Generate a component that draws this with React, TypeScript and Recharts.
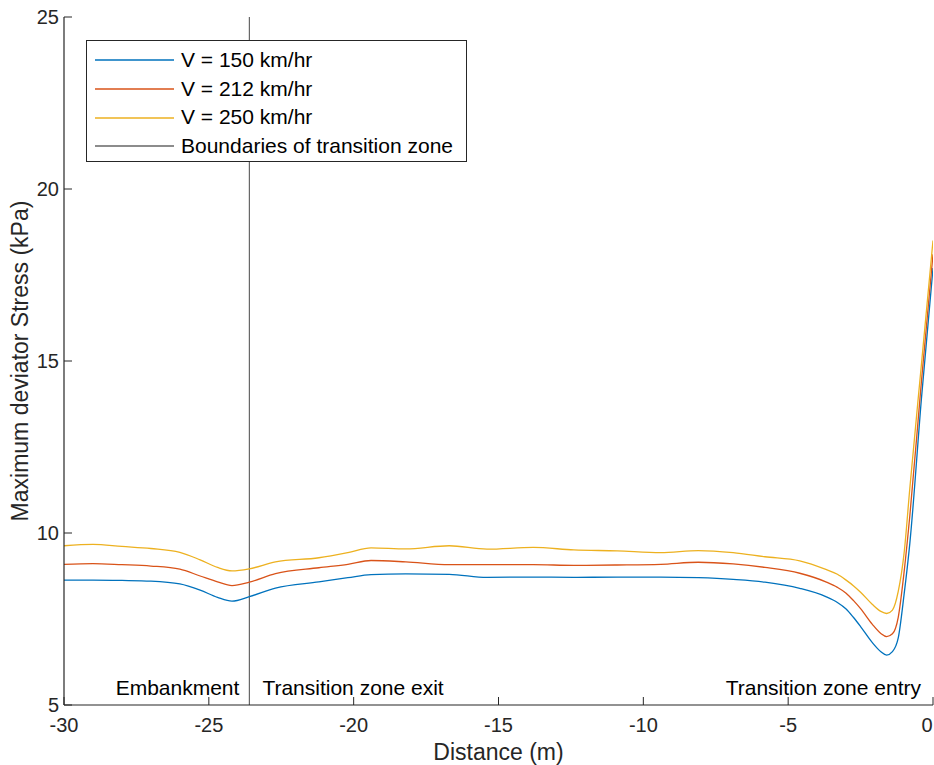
import React from 'react';
import { LineChart, Line, XAxis, YAxis, ReferenceLine, Legend } from 'recharts';

const distance = [-30, -29, -28, -27, -26, -25.3, -24.7, -24.2, -23.6, -22.7, -21.2, -20.2, -19.4, -18.2, -16.7, -15.4, -13.8, -12.4, -10.9, -9.4, -8.1, -6.9, -5.8, -4.6, -3.7, -3.3, -3.0, -2.75, -2.5, -2.1, -1.8, -1.6, -1.4, -1.2, -1.0, -0.8, -0.4, 0];
const v150 = [8.63, 8.63, 8.62, 8.6, 8.52, 8.34, 8.13, 8.02, 8.15, 8.4, 8.58, 8.7, 8.79, 8.81, 8.8, 8.71, 8.72, 8.71, 8.72, 8.72, 8.7, 8.65, 8.57, 8.39, 8.15, 7.98, 7.79, 7.55, 7.28, 6.82, 6.55, 6.45, 6.55, 6.95, 8.2, 9.7, 13.9, 17.7];
const v212 = [9.09, 9.11, 9.08, 9.04, 8.95, 8.75, 8.58, 8.47, 8.57, 8.82, 8.99, 9.09, 9.2, 9.16, 9.08, 9.08, 9.08, 9.06, 9.07, 9.09, 9.15, 9.1, 9.0, 8.83, 8.58, 8.42, 8.25, 8.04, 7.8, 7.35, 7.08, 6.99, 7.07, 7.55, 8.85, 10.5, 14.4, 18.1];
const v250 = [9.63, 9.67, 9.61, 9.55, 9.44, 9.22, 9.0, 8.9, 8.96, 9.16, 9.28, 9.43, 9.57, 9.54, 9.63, 9.53, 9.58, 9.51, 9.48, 9.43, 9.49, 9.43, 9.31, 9.19, 8.94, 8.8, 8.63, 8.47, 8.28, 7.93, 7.72, 7.66, 7.76, 8.3, 9.4, 11.3, 14.9, 18.5];

const xTicks = [-30, -25, -20, -15, -10, -5, 0];
const yTicks = [5, 10, 15, 20, 25];
const boundaryX = -23.6;
const entryX = 0;
const seriesNames = ['V = 150 km/hr', 'V = 212 km/hr', 'V = 250 km/hr'];
const boundaryName = 'Boundaries of transition zone';
const regionLabels = ['Embankment', 'Transition zone exit', 'Transition zone entry'];
const xLabel = 'Distance (m)';
const yLabel = 'Maximum deviator Stress (kPa)';

const colors = ['#0072BD', '#D95319', '#EDB120'];
const boundaryColor = '#666666';
const axisColor = '#262626';
const FONT = '"Liberation Sans", Arial, Helvetica, sans-serif';
const TICK = 8;

const data = distance.map((d, i) => ({ d, v150: v150[i], v212: v212[i], v250: v250[i] }));

const BottomTick = (props: any) => {
  const { x, y, payload } = props;
  const isLast = payload.value === xTicks[xTicks.length - 1];
  return (
    <g>
      <line x1={x} y1={y} x2={x} y2={y - TICK} stroke={axisColor} strokeWidth={1} />
      <text x={isLast ? x - 6 : x} y={y + 27} textAnchor="middle" fontSize={20} fontFamily={FONT} fill={axisColor}>
        {payload.value}
      </text>
    </g>
  );
};

const TopTick = (props: any) => {
  const { x, y } = props;
  return <line x1={x} y1={y} x2={x} y2={y + TICK} stroke={axisColor} strokeWidth={1} />;
};

const LeftTick = (props: any) => {
  const { x, y, payload } = props;
  return (
    <g>
      <line x1={x} y1={y} x2={x + TICK} y2={y} stroke={axisColor} strokeWidth={1} />
      <text x={x - 5} y={y + 7} textAnchor="end" fontSize={20} fontFamily={FONT} fill={axisColor}>
        {payload.value}
      </text>
    </g>
  );
};

const RightTick = (props: any) => {
  const { x, y } = props;
  return <line x1={x} y1={y} x2={x - TICK} y2={y} stroke={axisColor} strokeWidth={1} />;
};

const XAxisLabel = (props: any) => {
  const { viewBox } = props;
  return (
    <text x={viewBox.x + viewBox.width / 2} y={viewBox.y + 55} textAnchor="middle" fontSize={23} fontFamily={FONT} fill={axisColor}>
      {xLabel}
    </text>
  );
};

const YAxisLabel = (props: any) => {
  const { viewBox } = props;
  const cx = 28;
  const cy = viewBox.y + viewBox.height / 2;
  return (
    <text x={cx} y={cy} transform={`rotate(-90 ${cx} ${cy})`} textAnchor="middle" fontSize={23} fontFamily={FONT} fill={axisColor}>
      {yLabel}
    </text>
  );
};

const BoundaryLabel = (props: any) => {
  const { viewBox } = props;
  const x = viewBox.x;
  const y = viewBox.y + viewBox.height - 10;
  return (
    <g>
      <text x={x - 10} y={y} textAnchor="end" fontSize={21} fontFamily={FONT} fill="#000">{regionLabels[0]}</text>
      <text x={x + 13} y={y} textAnchor="start" fontSize={21} fontFamily={FONT} fill="#000">{regionLabels[1]}</text>
    </g>
  );
};

const EntryLabel = (props: any) => {
  const { viewBox } = props;
  const x = viewBox.x;
  const y = viewBox.y + viewBox.height - 10;
  return (
    <text x={x - 12} y={y} textAnchor="end" fontSize={21} fontFamily={FONT} fill="#000">{regionLabels[2]}</text>
  );
};

const LegendBox = () => {
  const items = [
    ...seriesNames.map((n, i) => ({ name: n, color: colors[i] })),
    { name: boundaryName, color: boundaryColor },
  ];
  return (
    <div
      style={{
        border: `1px solid ${axisColor}`,
        background: '#fff',
        width: 379,
        height: 120,
        boxSizing: 'content-box',
        fontFamily: FONT,
        fontSize: 21,
        color: '#000',
      }}
    >
      <div style={{ height: 5 }} />
      {items.map((it) => (
        <div key={it.name} style={{ display: 'flex', alignItems: 'center', height: 28.7, lineHeight: '28.7px' }}>
          <svg width={79} height={4} style={{ marginLeft: 8, marginRight: 7, display: 'block' }}>
            <line x1={0} y1={2} x2={79} y2={2} stroke={it.color} strokeWidth={1.3} />
          </svg>
          <span style={{ whiteSpace: 'nowrap' }}>{it.name}</span>
        </div>
      ))}
    </div>
  );
};

export default function App() {
  return (
    <div style={{ position: 'absolute', left: 0, top: 0, width: 934, height: 765, background: '#fff' }}>
      <LineChart width={934} height={765} data={data} margin={{ top: 17, right: 1, bottom: 0, left: 0 }}>
        <XAxis
          dataKey="d"
          type="number"
          domain={[-30, 0]}
          ticks={xTicks}
          allowDataOverflow
          height={60}
          tickSize={0}
          tickMargin={0}
          tickLine={false}
          axisLine={{ stroke: axisColor, strokeWidth: 1.2 }}
          tick={<BottomTick />}
          interval={0}
          label={<XAxisLabel />}
        />
        <XAxis
          xAxisId="top"
          orientation="top"
          dataKey="d"
          type="number"
          domain={[-30, 0]}
          ticks={xTicks}
          allowDataOverflow
          height={0}
          tickSize={0}
          tickMargin={0}
          tickLine={false}
          axisLine={{ stroke: axisColor, strokeWidth: 1.2 }}
          tick={<TopTick />}
          interval={0}
        />
        <YAxis
          type="number"
          domain={[5, 25]}
          ticks={yTicks}
          allowDataOverflow
          width={64}
          tickSize={0}
          tickMargin={0}
          tickLine={false}
          axisLine={{ stroke: axisColor, strokeWidth: 1.2 }}
          tick={<LeftTick />}
          interval={0}
          label={<YAxisLabel />}
        />
        <YAxis
          yAxisId="right"
          orientation="right"
          type="number"
          domain={[5, 25]}
          ticks={yTicks}
          allowDataOverflow
          width={0}
          tickSize={0}
          tickMargin={0}
          tickLine={false}
          axisLine={{ stroke: axisColor, strokeWidth: 1.2 }}
          tick={<RightTick />}
          interval={0}
        />
        <ReferenceLine x={boundaryX} stroke={boundaryColor} strokeWidth={1.2} label={<BoundaryLabel />} />
        <ReferenceLine x={entryX} stroke="none" strokeOpacity={0} label={<EntryLabel />} />
        <Line type="monotone" dataKey="v150" name={seriesNames[0]} stroke={colors[0]} strokeWidth={1.3} dot={false} isAnimationActive={false} />
        <Line type="monotone" dataKey="v212" name={seriesNames[1]} stroke={colors[1]} strokeWidth={1.3} dot={false} isAnimationActive={false} />
        <Line type="monotone" dataKey="v250" name={seriesNames[2]} stroke={colors[2]} strokeWidth={1.3} dot={false} isAnimationActive={false} />
        <Legend
          layout="vertical"
          align="center"
          verticalAlign="middle"
          content={<LegendBox />}
          wrapperStyle={{ position: 'absolute', left: 86, top: 40, width: 381, height: 122, margin: 0, padding: 0 }}
        />
      </LineChart>
    </div>
  );
}
